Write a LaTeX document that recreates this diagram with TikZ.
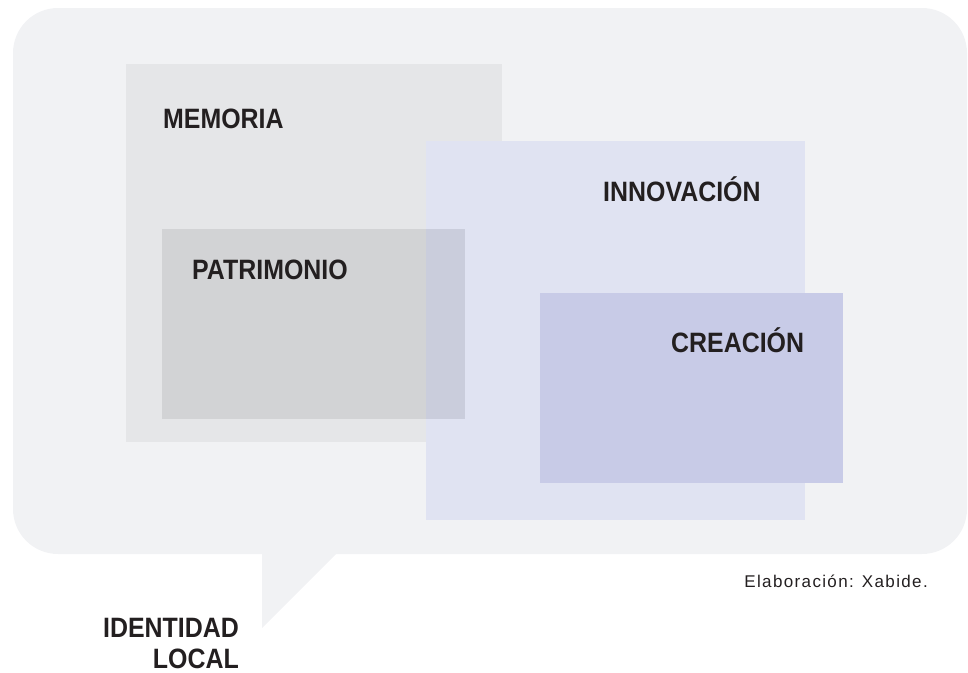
\documentclass[tikz,border=0pt]{standalone}
\usepackage{fontspec}
\setmainfont{Liberation Sans}
\newfontfamily\tfont[FakeStretch=0.89]{Liberation Sans}
\newfontfamily\cfont[LetterSpace=8]{Liberation Sans}
\definecolor{bubble}{HTML}{F1F2F4}
\definecolor{memoria}{HTML}{E5E6E8}
\definecolor{innov}{HTML}{E0E3F2}
\definecolor{patri}{HTML}{D2D3D5}
\definecolor{overlap}{HTML}{CACDDC}
\definecolor{creac}{HTML}{C8CBE7}
\definecolor{ink}{HTML}{231F20}
\begin{document}
\begin{tikzpicture}[x=1pt,y=-1pt,
  lbl/.style={inner sep=0pt,text=ink,font=\tfont\bfseries\fontsize{28}{31}\selectfont},
  captxt/.style={inner sep=0pt,text=ink,font=\cfont\fontsize{17}{20}\selectfont}]
\useasboundingbox (0,0) rectangle (968,672);
% speech bubble
\fill[bubble,rounded corners=45pt] (13,8) rectangle (967,554);
\fill[bubble] (262,553) -- (262,628) -- (337,553) -- cycle;
% boxes
\fill[memoria] (126,64) rectangle (502,442);
\fill[innov] (426,141) rectangle (805,520);
\fill[patri] (162,229) rectangle (465,419);
\fill[overlap] (426,229) rectangle (465,419);
\fill[creac] (540,293) rectangle (843,483);
% labels
\node[lbl,anchor=base west] (mem) at (163,128) {MEMORIA};
\node[lbl,anchor=base west] (inn) at (603,201.5) {INNOVACIÓN};
\node[lbl,anchor=base west] (pat) at (192,279) {PATRIMONIO};
\node[lbl,anchor=base west] (cre) at (671,352) {CREACIÓN};
\node[lbl,anchor=base east] (id) at (239,637) {IDENTIDAD};
\node[lbl,anchor=base east] (loc) at (239,668) {LOCAL};
\node[captxt,anchor=base east] (src) at (928,587) {Elaboración: Xabide.};
\end{tikzpicture}
\end{document}
